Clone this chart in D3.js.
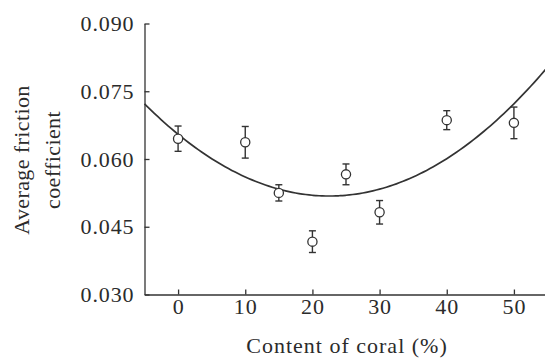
<!DOCTYPE html>
<html>
<head>
<meta charset="utf-8">
<script src="https://cdn.jsdelivr.net/npm/d3@7"></script>
<style>
  body { margin: 0; background: #fff; }
  svg text { font-family: "Liberation Serif", "DejaVu Serif", serif; fill: #2b2b2b; }
  .axis path, .axis line { stroke: #333; stroke-width: 1.3; }
</style>
</head>
<body>
<svg id="chart"></svg>
<script>
// content of coral (%)
var coral = [0, 10, 15, 20, 25, 30, 40, 50]
// average friction coefficient
var friction = [0.0645, 0.0637, 0.0525, 0.0417, 0.0566, 0.0482, 0.0686, 0.0680]
var errBar = [0.0028, 0.0035, 0.0018, 0.0024, 0.0023, 0.0026, 0.0021, 0.0035]
// quadratic fit: c + b*x + a*x^2
var fitCoef = [0.06547, -0.001215, 0.000027]

var xTicks = [0, 10, 20, 30, 40, 50]
var yTicks = [0.030, 0.045, 0.060, 0.075, 0.090]

var screen = {width: 545, height: 360}

var svg = d3.select("#chart")
    .attr("width", screen.width)
    .attr("height", screen.height)

var xScale = d3.scaleLinear()
    .domain([-5, 55])
    .range([144.5, 547.5])

var yScale = d3.scaleLinear()
    .domain([0.030, 0.090])
    .range([294.5, 23.5])

var xAxis = d3.axisBottom(xScale)
    .tickValues(xTicks)
    .tickSizeInner(-5)
    .tickSizeOuter(0)
    .tickPadding(4)

var yAxis = d3.axisLeft(yScale)
    .tickValues(yTicks)
    .tickFormat(d3.format(".3f"))
    .tickSizeInner(-5)
    .tickSizeOuter(0)
    .tickPadding(10)

var gx = svg.append("g")
    .attr("class", "axis")
    .attr("transform", "translate(0," + yScale(0.030) + ")")
    .call(xAxis)

var gy = svg.append("g")
    .attr("class", "axis")
    .attr("transform", "translate(" + xScale(-5) + ",0)")
    .call(yAxis)

svg.selectAll(".axis text")
    .style("font-size", "22px")
    .style("letter-spacing", "0.9px")
    .attr("fill", "#2b2b2b")
svg.selectAll(".axis .domain").attr("stroke", "#333")

// fitted curve
var fit = function(x) { return fitCoef[0] + fitCoef[1] * x + fitCoef[2] * x * x }
var line = d3.line()
    .x(function(d) { return xScale(d) })
    .y(function(d) { return yScale(fit(d)) })
    .curve(d3.curveBasis)

svg.append("path")
    .datum(d3.range(-5, 55.01, 0.5))
    .attr("d", line)
    .attr("fill", "none")
    .attr("stroke", "#333")
    .attr("stroke-width", 1.7)

// error bars + markers
var pts = svg.append("g")
    .selectAll("g")
    .data(coral)
    .enter()
    .append("g")

pts.append("line")
    .attr("x1", function(d) { return xScale(d) })
    .attr("x2", function(d) { return xScale(d) })
    .attr("y1", function(d, i) { return yScale(friction[i] + errBar[i]) })
    .attr("y2", function(d, i) { return yScale(friction[i] - errBar[i]) })
    .attr("stroke", "#333")
    .attr("stroke-width", 1.4)

pts.selectAll(".cap")
    .data(function(d, i) { return [[d, friction[i] + errBar[i]], [d, friction[i] - errBar[i]]] })
    .enter()
    .append("line")
    .attr("class", "cap")
    .attr("x1", function(d) { return xScale(d[0]) - 3.5 })
    .attr("x2", function(d) { return xScale(d[0]) + 3.5 })
    .attr("y1", function(d) { return yScale(d[1]) })
    .attr("y2", function(d) { return yScale(d[1]) })
    .attr("stroke", "#333")
    .attr("stroke-width", 1.4)

pts.append("circle")
    .attr("cx", function(d) { return xScale(d) })
    .attr("cy", function(d, i) { return yScale(friction[i]) })
    .attr("r", 4.6)
    .attr("fill", "#fff")
    .attr("stroke", "#333")
    .attr("stroke-width", 1.3)

// axis titles
svg.append("text")
    .attr("x", 347)
    .attr("y", 353)
    .attr("text-anchor", "middle")
    .style("font-size", "22px")
    .style("letter-spacing", "1px")
    .text("Content of coral (%)")

var ylab = svg.append("text")
    .attr("transform", "translate(29,160) rotate(-90)")
    .attr("text-anchor", "middle")
    .style("font-size", "22px")
    .style("letter-spacing", "0.4px")

ylab.append("tspan").attr("x", 0).attr("dy", 0).text("Average friction")
ylab.append("tspan").attr("x", 0).attr("dy", 31).text("coefficient")
</script>
</body>
</html>
